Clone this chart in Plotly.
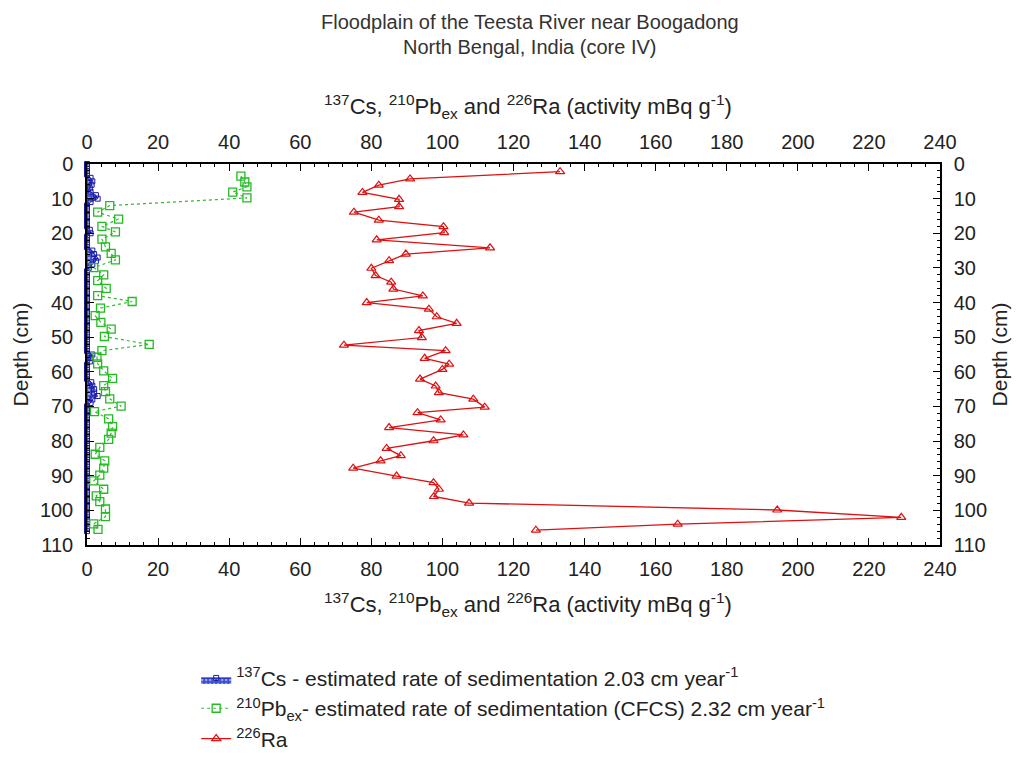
import plotly.graph_objects as go

# ---- data ----
ra_depth = [2.2, 4.3, 6.1, 8.2, 10.2, 12.3, 13.9, 16.2, 18.1, 19.8, 21.9, 24.2, 26.0, 27.9, 30.1,
            32.2, 34.1, 36.1, 38.1, 40.0, 41.9, 44.1, 46.0, 48.1, 50.1, 52.3, 53.9, 56.1, 57.8,
            59.3, 62.1, 64.1, 66.0, 67.9, 70.2, 71.8, 73.9, 76.1, 78.2, 79.9, 82.1, 84.2, 85.7,
            87.8, 90.1, 92.0, 93.9, 96.0, 97.9, 99.9, 102.0, 104.0, 105.7]
ra_val = [133.1, 90.9, 82.1, 77.5, 87.8, 87.8, 75.1, 82.1, 100.3, 100.5, 81.5, 113.4, 89.7, 85.0, 80.0,
          81.2, 85.6, 86.2, 94.5, 78.7, 96.2, 98.4, 104.0, 93.4, 94.2, 72.3, 100.9, 95.0, 101.9,
          100.0, 93.7, 98.1, 99.0, 108.7, 111.9, 93.0, 99.5, 85.0, 105.9, 97.5, 84.3, 88.3, 82.6,
          74.9, 87.1, 97.5, 99.0, 97.6, 107.5, 194.2, 229.1, 166.2, 126.3]

pb_depth = [3.5, 5.2, 6.6, 8.1, 9.8, 12.0, 13.9, 15.9, 18.0, 19.6, 21.7, 23.9, 25.8, 27.7, 29.9,
            32.0, 33.7, 35.9, 38.0, 39.7, 41.6, 43.8, 45.7, 47.7, 49.8, 52.1, 53.9, 55.8, 57.7,
            59.7, 61.9, 64.0, 65.7, 67.8, 69.9, 71.5, 73.6, 75.8, 77.7, 79.5, 81.8, 83.8, 85.7,
            87.8, 89.8, 91.5, 93.9, 95.8, 97.5, 99.6, 101.8, 103.9, 105.5]
pb_val = [43.3, 44.4, 45.0, 41.0, 45.0, 6.4, 3.0, 8.9, 4.2, 8.0, 4.2, 5.2, 6.8, 8.0, 1.9,
          4.7, 3.0, 5.4, 3.0, 12.7, 3.8, 2.3, 3.9, 6.8, 4.9, 17.5, 4.2, 2.8, 3.0,
          4.7, 7.2, 4.7, 5.2, 6.4, 9.6, 2.1, 6.1, 7.2, 6.8, 6.1, 3.6, 2.3, 5.0,
          4.7, 3.6, 1.9, 4.7, 2.6, 3.6, 5.2, 5.2, 1.9, 3.1]

cs_depth = [0, 1, 2, 3, 4, 5, 6, 7, 8, 9, 10, 11, 12, 13, 14, 15, 16, 17, 18, 19, 20, 21, 22, 23, 24,
            25, 26, 27, 28, 29, 30, 31, 32, 33, 34, 35, 36, 37, 38, 39, 40, 41, 42, 43, 44, 45, 46,
            47, 48, 49, 50, 51, 52, 53, 54, 55, 56, 57, 58, 59, 60, 61, 62, 63, 64, 65, 66, 67, 68,
            69, 70, 71, 72, 73, 74, 75, 76, 77, 78, 79, 80, 81, 82, 83, 84, 85, 86, 87, 88, 89, 90,
            91, 92, 93, 94, 95, 96, 97, 98, 99, 100, 101, 102, 103, 104, 105, 106]
cs_val = [0, 0, 0, 0, 1.0, 1.5, 1.3, 0.8, 1.0, 2.5, 3.0, 1.0, 0, 0, 0, 0, 0, 0, 0, 0.8, 1.0, 0, 0, 0, 0,
          1.5, 2.0, 3.0, 2.5, 1.5, 0.5, 0, 0, 0, 0, 0, 0, 0, 0, 0, 0, 0, 0, 0, 0, 0, 0,
          0, 0, 0, 0, 0, 0, 0, 0, 1.5, 1.0, 0.8, 0, 0, 0, 0, 0, 1.2, 1.5, 2.0, 2.0, 3.0, 1.5,
          1.0, 0, 0, 0, 0, 0, 0, 0, 0, 0, 0, 0, 0, 0, 0, 0, 0, 0, 0, 0, 0, 0,
          0, 0, 0, 0, 0, 0, 0, 0, 0, 0, 0, 0, 0, 0, 0, 0]

x_ticks = [0, 20, 40, 60, 80, 100, 120, 140, 160, 180, 200, 220, 240]
y_ticks = [0, 10, 20, 30, 40, 50, 60, 70, 80, 90, 100, 110]

FONT = "Liberation Sans, Arial, sans-serif"
TXT = "#222222"

fig = go.Figure()

fig.add_trace(go.Scatter(
    x=cs_val, y=cs_depth, mode="lines+markers", fill="tozerox",
    fillcolor="rgba(40,60,200,0.9)",
    fillpattern=dict(shape=".", fgcolor="#ffffff", bgcolor="#3a4fd0", size=4, solidity=0.3),
    line=dict(color="#1a1aa0", width=1),
    marker=dict(symbol="square-open", size=5, color="#1a1aa0", line=dict(width=1)),
    cliponaxis=False,
    name="<sup>137</sup>Cs - estimated rate of sedimentation 2.03 cm year<sup>-1</sup>",
))

fig.add_trace(go.Scatter(
    x=pb_val, y=pb_depth, mode="lines+markers",
    line=dict(color="#33bb33", width=1.2, dash="dot"),
    marker=dict(symbol="square-open", size=8, color="#22bb22", line=dict(width=1.3)),
    cliponaxis=False,
    name="<sup>210</sup>Pb<sub>ex</sub>- estimated rate of sedimentation (CFCS) 2.32 cm year<sup>-1</sup>",
))

fig.add_trace(go.Scatter(
    x=ra_val, y=ra_depth, mode="lines+markers",
    line=dict(color="#dd1111", width=1.3),
    marker=dict(symbol="triangle-up-open", size=8, color="#dd1111", line=dict(width=1.2)),
    cliponaxis=False,
    name="<sup>226</sup>Ra",
))

# invisible trace to bind the top/right axes
fig.add_trace(go.Scatter(
    x=ra_val, y=ra_depth, xaxis="x2", yaxis="y2", mode="lines",
    line=dict(width=0, color="rgba(0,0,0,0)"), showlegend=False, hoverinfo="skip",
))

axis_common = dict(
    showgrid=False, zeroline=False, showline=True, linecolor="#000000", linewidth=1.5,
    ticks="inside", ticklen=7, tickwidth=1.2, tickcolor="#000000",
    tickfont=dict(family=FONT, size=20, color=TXT),
    minor=dict(ticks="inside", ticklen=3, tickwidth=1, tickcolor="#000000"),
)

xtitle = ("<sup>137</sup>Cs, <sup>210</sup>Pb<sub>ex</sub> and <sup>226</sup>Ra "
          "(activity mBq g<sup>-1</sup>)")
title_font = dict(family=FONT, size=21, color=TXT)
ann_font = dict(family=FONT, size=22, color=TXT)

fig.update_layout(
    width=1028, height=758,
    margin=dict(l=87, r=88, t=164, b=213, autoexpand=False),
    paper_bgcolor="white", plot_bgcolor="white",
    font=dict(family=FONT, color=TXT),
    xaxis=dict(
        range=[0, 240], tickvals=x_ticks, ticklabelstandoff=5,
        minor_dtick=4, **axis_common,
    ),
    xaxis2=dict(
        range=[0, 240], tickvals=x_ticks, overlaying="x", side="top", ticklabelstandoff=5,
        minor_dtick=4, **axis_common,
    ),
    yaxis=dict(
        range=[110, 0], tickvals=y_ticks, ticklabelstandoff=8,
        minor_dtick=2,
        title=dict(text="Depth (cm)", font=title_font, standoff=6),
        **axis_common,
    ),
    yaxis2=dict(
        range=[110, 0], tickvals=y_ticks, overlaying="y", side="right", ticklabelstandoff=8,
        minor_dtick=2,
        title=dict(text="Depth (cm)", font=title_font, standoff=6),
        **axis_common,
    ),
    legend=dict(
        x=0.128, xanchor="left", y=-0.296, yanchor="top",
        orientation="v", font=dict(family=FONT, size=21, color=TXT),
        bgcolor="rgba(0,0,0,0)", itemwidth=30, tracegroupgap=0,
    ),
    showlegend=True,
    annotations=[
        dict(text="Floodplain of the Teesta River near Boogadong", xref="paper", yref="paper",
             x=0.519, y=1.373, xanchor="center", yanchor="middle", showarrow=False,
             font=dict(family=FONT, size=20, color="#333333")),
        dict(text="North Bengal, India (core IV)", xref="paper", yref="paper",
             x=0.519, y=1.308, xanchor="center", yanchor="middle", showarrow=False,
             font=dict(family=FONT, size=20, color="#333333")),
        dict(text=xtitle, xref="paper", yref="paper",
             x=0.517, y=1.152, xanchor="center", yanchor="middle", showarrow=False,
             font=ann_font),
        dict(text=xtitle, xref="paper", yref="paper",
             x=0.517, y=-0.157, xanchor="center", yanchor="middle", showarrow=False,
             font=ann_font),
    ],
)

fig.write_html("out.html")
